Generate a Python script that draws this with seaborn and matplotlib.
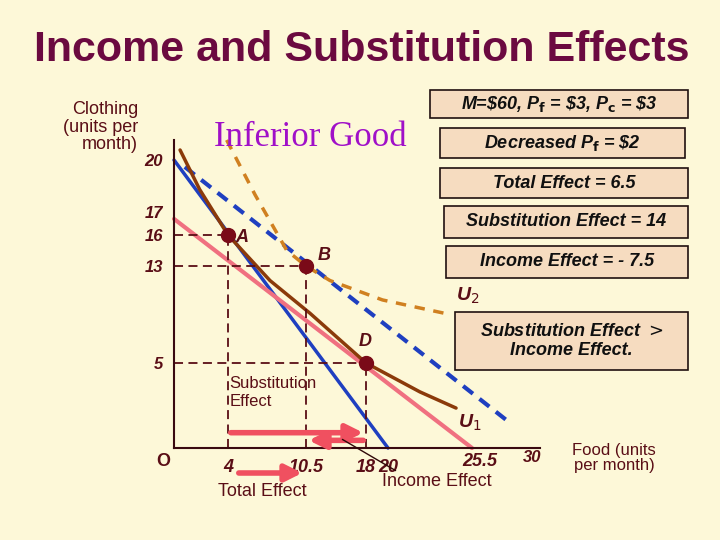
import numpy as np
import matplotlib
matplotlib.use("Agg")
import matplotlib.pyplot as plt
import seaborn as sns

sns.set_style("white")
plt.rcParams["font.family"] = ["Liberation Sans", "DejaVu Sans"]

# data (food units, clothing units)
budget_old = [(0, 20), (20, 0)]
budget_comp = [(0, 16.7), (30, 0)]
budget_new = [(0.8, 19.6), (33.5, 1.4)]
u1_x = [0.45, 1.9, 4, 7.5, 11.0, 18, 23.8, 28.1]
u1_y = [21.5, 18.3, 16, 11.8, 9.1, 5, 3.3, 2.35]
u2_x = [3.9, 6.25, 8.9, 10.5, 13.5, 19.5, 27.4]
u2_y = [23.0, 18.0, 14.5, 13.0, 11.8, 10.2, 9.0]
points = {"A": (4, 16), "B": (10.5, 13), "D": (18, 5)}
x_ticks = [4, 10.5, 18, 20]
x_tick_labels = ["4", "10.5", "18", "20"]
y_ticks = [5, 13, 16, 17, 20]

# piecewise scales so the slide's uneven spacing is kept
xk_u = [0, 4, 10.5, 18, 20, 30, 36]
xk_p = [174, 228, 306, 366, 388, 472, 540]
yk_u = [0, 5, 13, 16, 17, 20, 23]
yk_p = [448, 363, 266, 235, 212, 160, 140]
fx = (lambda v: np.interp(v, xk_u, xk_p), lambda p: np.interp(p, xk_p, xk_u))
fy = (lambda v: -np.interp(v, yk_u, yk_p), lambda p: np.interp(-p, yk_p[::-1], yk_u[::-1]))

W, H = 720, 540
fig = plt.figure(figsize=(7.2, 5.4), dpi=100)
fig.patch.set_facecolor("#fdf8d8")

def fp(x, y):
    return x / W, 1 - y / H

ax = fig.add_axes([174 / W, 1 - 448 / H, (540 - 174) / W, (448 - 140) / H])
ax.set_xscale("function", functions=fx)
ax.set_yscale("function", functions=fy)
ax.set_xlim(0, 36)
ax.set_ylim(0, 23)
ax.patch.set_alpha(0)
for s in ["top", "right"]:
    ax.spines[s].set_visible(False)
for s in ["left", "bottom"]:
    ax.spines[s].set_color("#3a0a10")
    ax.spines[s].set_linewidth(1.5)

maroon = "#5a0e16"
ax.plot(*zip(*budget_old), color="#1f3fc0", lw=2.5, clip_on=False)
ax.plot(*zip(*budget_comp), color="#f07080", lw=3, clip_on=False)
ax.plot(*zip(*budget_new), color="#1f3fc0", lw=3, ls=(0, (3, 2)), clip_on=False)
ax.plot(u1_x, u1_y, color="#8b3a0a", lw=2.5, clip_on=False)
ax.plot(u2_x, u2_y, color="#d08020", lw=2.5, ls=(0, (3, 2.5)), clip_on=False)

for name, (px, py) in points.items():
    ax.plot([0, px], [py, py], color=maroon, lw=1.3, ls=(0, (5, 3)))
    ax.plot([px, px], [0, py], color=maroon, lw=1.3, ls=(0, (5, 3)))
    ax.plot(px, py, "o", color="#7a0a18", ms=10, zorder=5)
ax.text(4.6, 15.8, "A", style="italic", color=maroon, fontsize=13, va="center", weight="bold")
ax.text(12, 14.0, "B", style="italic", color=maroon, fontsize=13, va="center", weight="bold")
ax.text(17.1, 6.8, "D", style="italic", color=maroon, fontsize=13, va="center", weight="bold")

ax.set_xticks(x_ticks)
ax.set_xticklabels(x_tick_labels, style="italic", color=maroon, fontsize=13, weight="bold")
ax.set_yticks(y_ticks)
ax.set_yticklabels([str(v) for v in y_ticks], style="italic", color=maroon, fontsize=12,
                   weight="bold")
ax.tick_params(length=0, pad=8)

# effect arrows
ax.annotate("", xy=(18, 0.9), xytext=(4, 0.9),
            arrowprops=dict(arrowstyle="-|>,head_width=0.5,head_length=1", color="#f05060", lw=4))
ax.annotate("", xy=(10.5, 0.45), xytext=(18, 0.45),
            arrowprops=dict(arrowstyle="-|>,head_width=0.5,head_length=1", color="#f05060", lw=4))
ax.annotate("", xy=fp(305, 473), xytext=fp(236, 473), xycoords="figure fraction",
            textcoords="figure fraction", annotation_clip=False,
            arrowprops=dict(arrowstyle="-|>,head_width=0.5,head_length=1", color="#f05060", lw=4))
ax.annotate("", xy=fp(398, 472), xytext=fp(340, 438), xycoords="figure fraction",
            textcoords="figure fraction", annotation_clip=False,
            arrowprops=dict(arrowstyle="-", color="#300808", lw=1))
ax.text(4.1, 2.5, "Substitution\nEffect", color=maroon, fontsize=12, linespacing=1.2)

t = lambda x, y, s, **k: fig.text(*fp(x, y), s, **k)
t(362, 50, "Income and Substitution Effects", ha="center", va="center",
  fontsize=31, fontweight="bold", color="#6b0a40")
t(310, 138, "Inferior Good", ha="center", va="center", fontsize=25,
  family=["Liberation Serif", "DejaVu Serif"], color="#a010c8")
t(138, 127, "Clothing\n(units per\nmonth)", ha="right", va="center", color=maroon,
  fontsize=13, linespacing=1.05)
t(163, 462, "O", ha="center", va="center", color=maroon, fontsize=13, weight="bold")
t(480, 462, "25.5", ha="center", va="center", color=maroon, fontsize=13, style="italic",
  weight="bold")
t(532, 458, "30", ha="center", va="center", color=maroon, fontsize=12, style="italic",
  weight="bold")
t(262, 491, "Total Effect", ha="center", va="center", color=maroon, fontsize=13)
t(437, 481, "Income Effect", ha="center", va="center", color=maroon, fontsize=13)
t(614, 458, "Food (units\nper month)", ha="center", va="center", color=maroon,
  fontsize=12, linespacing=1.05)
t(468, 296, "U$_2$", ha="center", va="center", color=maroon, fontsize=14, style="italic",
  weight="bold")
t(470, 423, "U$_1$", ha="center", va="center", color=maroon, fontsize=14, style="italic",
  weight="bold")

boxes = [
    (430, 90, 688, 118, "M=\\$60, P$_\\mathbf{f}$ = \\$3, P$_\\mathbf{c}$ = \\$3"),
    (440, 128, 685, 158, "Decreased P$_\\mathbf{f}$ = \\$2"),
    (440, 168, 688, 198, "Total Effect = 6.5"),
    (444, 206, 688, 238, "Substitution Effect = 14"),
    (446, 246, 688, 278, "Income Effect = - 7.5"),
    (455, 312, 688, 370, "Substitution Effect $>$\nIncome Effect."),
]
for x0, y0, x1, y1, s in boxes:
    bx, by = fp(x0, y1)
    fig.add_artist(plt.Rectangle((bx, by), (x1 - x0) / W, (y1 - y0) / H,
                                 transform=fig.transFigure, facecolor="#f6dcc0",
                                 edgecolor="#201010", lw=1.2))
    t((x0 + x1) / 2, (y0 + y1) / 2, s, ha="center", va="center", fontsize=13,
      style="italic", weight="bold", color="#101010", linespacing=1.2)

fig.savefig("out.png", dpi=100, facecolor=fig.get_facecolor())
